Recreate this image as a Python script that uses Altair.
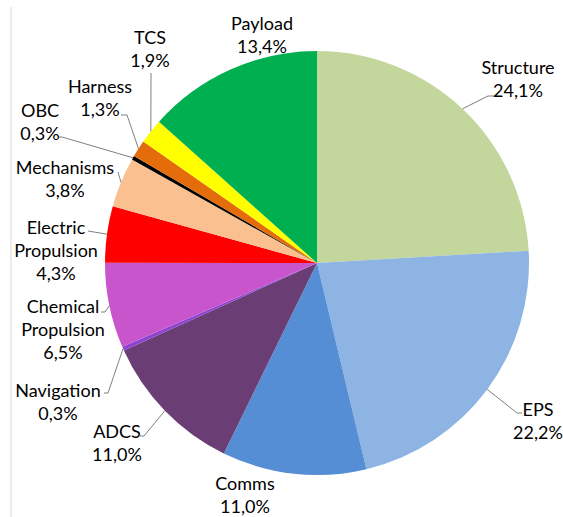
import math
import altair as alt
import pandas as pd

# ---- data ----
categories = ["Structure", "EPS", "Comms", "ADCS", "Navigation", "Chemical Propulsion",
              "Electric Propulsion", "Mechanisms", "OBC", "Harness", "TCS", "Payload"]
values = [24.1, 22.2, 11.0, 11.0, 0.3, 6.5, 4.3, 3.8, 0.3, 1.3, 1.9, 13.4]
label_names = [["Structure"], ["EPS"], ["Comms"], ["ADCS"], ["Navigation"],
               ["Chemical", "Propulsion"], ["Electric", "Propulsion"], ["Mechanisms"],
               ["OBC"], ["Harness"], ["TCS"], ["Payload"]]

# ---- styles / layout ----
colors = ["#C3D69B", "#8EB4E3", "#558ED5", "#6A3E75", "#8E44D0", "#C855CC",
          "#FF0000", "#FAC090", "#000000", "#E46C0A", "#FFFF00", "#00B050"]
W, H = 563, 517
CX, CY, R = 317, 263, 212
LH = 23
DY = 2
FONT = "Lato"
label_pos = {
    "Structure": (518, 67), "EPS": (538, 409), "Comms": (245, 483), "ADCS": (117, 431),
    "Navigation": (58, 390), "Chemical Propulsion": (63, 306),
    "Electric Propulsion": (56, 227), "Mechanisms": (65, 167), "OBC": (40, 110),
    "Harness": (100, 86), "TCS": (150, 37), "Payload": (262, 23),
}
# leader line points on the label side (elbow..end)
leader_pts = {
    "Structure": [(488, 96), (495, 96)],
    "EPS": [(517, 413), (522, 413)],
    "ADCS": [(144, 436), (140, 436)],
    "Navigation": [(108, 393), (104, 393)],
    "Chemical Propulsion": [(105, 312), (101, 312)],
    "Electric Propulsion": [(88, 231)],
    "Mechanisms": [(118, 172)],
    "OBC": [(62, 137), (58, 137)],
    "Harness": [(127, 115), (121, 115)],
    "TCS": [(151, 73)],
}

pie_df = pd.DataFrame({"cat": categories, "value": values, "idx": range(len(categories))})

# labels
rows = []
for c, v, names in zip(categories, values, label_names):
    x0, y0 = label_pos[c]
    lines = names + [f"{v:.1f}%".replace(".", ",")]
    for i, t in enumerate(lines):
        rows.append({"cat": c, "text": t, "px": x0, "py": y0 + DY + i * LH})
lab_df = pd.DataFrame(rows)

# leader lines: start at slice mid-angle on the rim
total = sum(values)
cum = 0.0
lrows = []
for c, v in zip(categories, values):
    mid = (cum + v / 2) / total * 2 * math.pi
    cum += v
    if c not in leader_pts:
        continue
    ex = CX + R * math.sin(mid)
    ey = CY - R * math.cos(mid)
    pts = [(ex, ey)] + leader_pts[c]
    for s, (px, py) in enumerate(pts):
        lrows.append({"cat": c, "seq": s, "px": px, "py": py})
lead_df = pd.DataFrame(lrows)

pie = alt.Chart(pie_df).mark_arc(outerRadius=R).encode(
    theta=alt.Theta("value:Q", stack=True),
    order=alt.Order("idx:Q", sort="ascending"),
    color=alt.Color("cat:N", scale=alt.Scale(domain=categories, range=colors), legend=None),
    x=alt.value(CX),
    y=alt.value(CY),
)

leaders = alt.Chart(lead_df).mark_line(color="#808080", strokeWidth=1).encode(
    x=alt.X("px:Q", scale=None),
    y=alt.Y("py:Q", scale=None),
    detail="cat:N",
    order="seq:Q",
)

labels = alt.Chart(lab_df).mark_text(
    font=FONT, fontSize=18, color="#000000", align="center", baseline="middle"
).encode(
    x=alt.X("px:Q", scale=None),
    y=alt.Y("py:Q", scale=None),
    text="text:N",
)

border = alt.Chart(pd.DataFrame({"a": [0]})).mark_rule(color="#D9D9D9", strokeWidth=1).encode(
    x=alt.value(11), y=alt.value(7), y2=alt.value(H)
)

chart = alt.layer(border, pie, leaders, labels).properties(
    width=W, height=H, padding=0, autosize=alt.AutoSizeParams(type="none")
).configure_view(stroke=None)

chart.save("out.html", embed_options={"renderer": "svg", "actions": False})
